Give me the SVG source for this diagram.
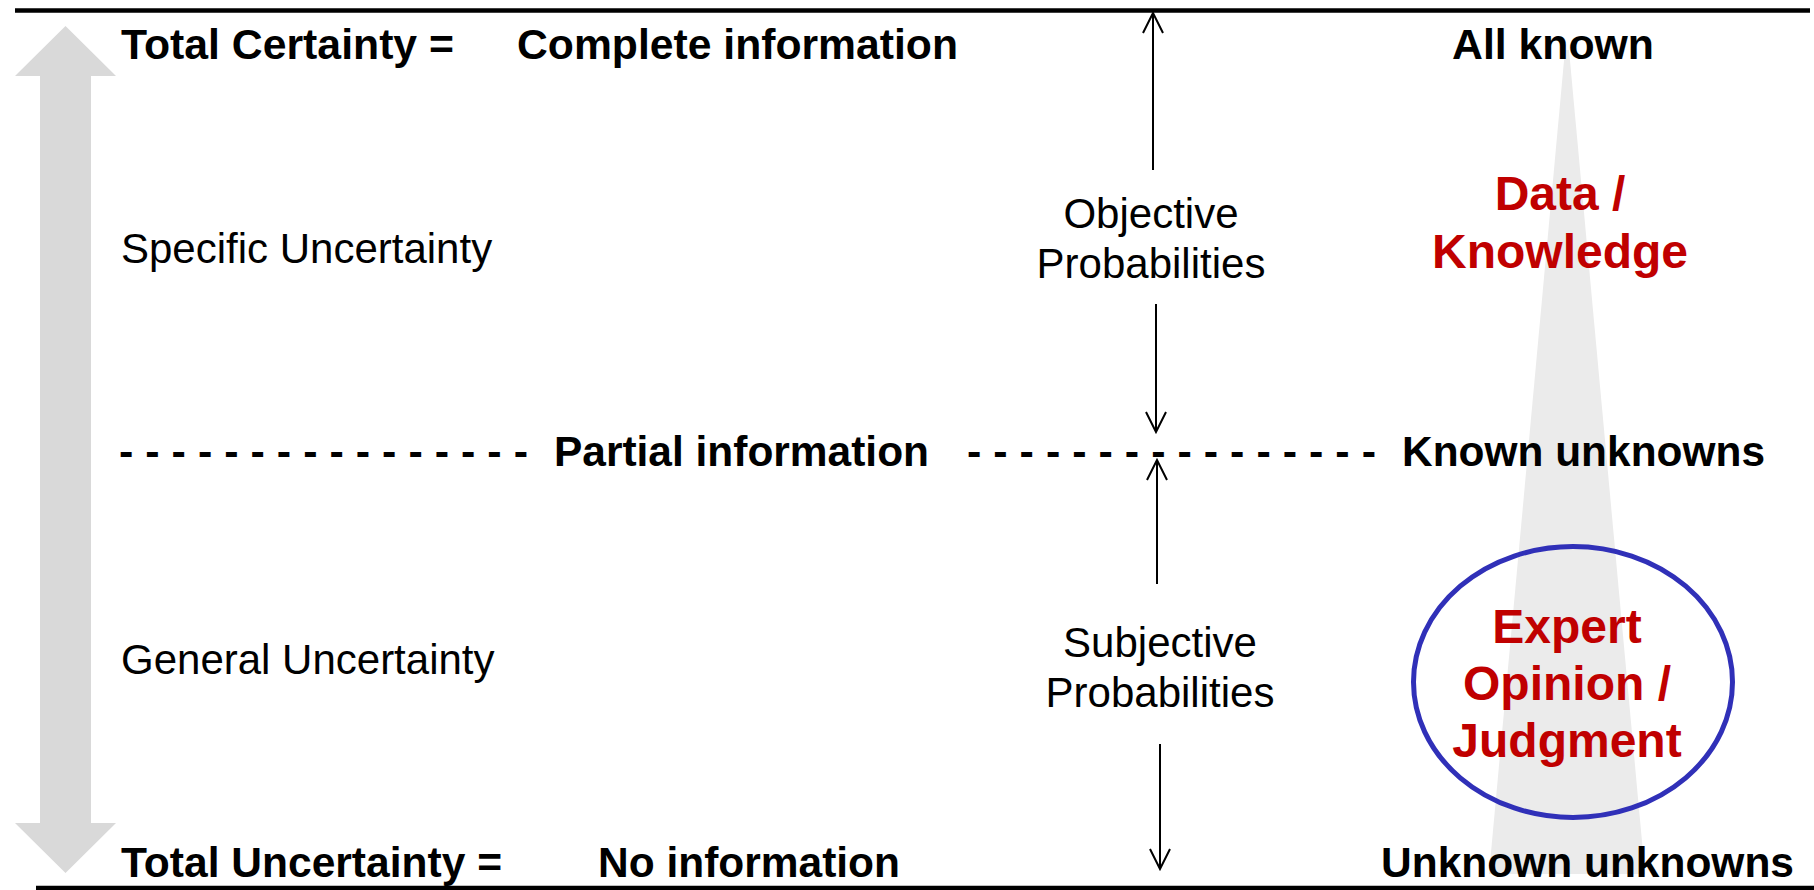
<svg xmlns="http://www.w3.org/2000/svg" width="1814" height="890" viewBox="0 0 1814 890">
  <defs>
    <style>
      .bold { font-family: "Liberation Sans", Arial, sans-serif; font-weight: bold; font-size: 43px; fill: #000; }
      .reg { font-family: "Liberation Sans", Arial, sans-serif; font-size: 42px; fill: #000; }
      .red { font-family: "Liberation Sans", Arial, sans-serif; font-weight: bold; font-size: 48px; fill: #c00000; text-anchor: middle; }
      .mid { text-anchor: middle; }
      .rule { stroke: #000; stroke-width: 4.5; }
      .conn { stroke: #000; stroke-width: 2; fill: none; marker-end: url(#open); }
    </style>
    <!-- open V arrowhead, tip at the line end -->
    <marker id="open" viewBox="-22 -12 24 24" refX="0" refY="0" markerWidth="24" markerHeight="24" markerUnits="userSpaceOnUse" orient="auto">
      <path d="M-20,-10 L0,0 L-20,10" fill="none" stroke="#000" stroke-width="2"/>
    </marker>
  </defs>

  <rect width="1814" height="890" fill="#fff"/>

  <!-- light wedge behind the right-hand column -->
  <polygon id="wedge" points="1565,50 1569,50 1645,874 1489,874" fill="#ebebeb"/>

  <!-- certainty scale: grey double arrow -->
  <polygon id="scale-arrow" points="65.5,26 116,76 91,76 91,823 116,823 65.5,873 15,823 40,823 40,76 15,76" fill="#d9d9d9"/>

  <!-- top and bottom rules -->
  <line class="rule" x1="15" y1="10.5" x2="1810" y2="10.5"/>
  <line class="rule" x1="36" y1="888" x2="1814" y2="888"/>

  <!-- top row -->
  <g id="total-certainty">
    <text class="bold" x="121" y="59" textLength="333" lengthAdjust="spacingAndGlyphs">Total Certainty =</text>
    <text class="bold" x="517" y="59" textLength="441" lengthAdjust="spacingAndGlyphs">Complete information</text>
    <text class="bold" x="1452" y="59" textLength="202" lengthAdjust="spacingAndGlyphs">All known</text>
  </g>

  <!-- middle row -->
  <g id="partial-information">
    <text class="bold" x="119" y="466" textLength="409" lengthAdjust="spacing">- - - - - - - - - - - - - - - -</text>
    <text class="bold" x="554" y="466" textLength="375" lengthAdjust="spacingAndGlyphs">Partial information</text>
    <text class="bold" x="967" y="466" textLength="409" lengthAdjust="spacing">- - - - - - - - - - - - - - - -</text>
    <text class="bold" x="1402" y="466" textLength="363" lengthAdjust="spacingAndGlyphs">Known unknowns</text>
  </g>

  <!-- bottom row -->
  <g id="total-uncertainty">
    <text class="bold" x="121" y="877" textLength="381" lengthAdjust="spacingAndGlyphs">Total Uncertainty =</text>
    <text class="bold" x="598" y="877" textLength="302" lengthAdjust="spacingAndGlyphs">No information</text>
    <text class="bold" x="1381" y="877" textLength="413" lengthAdjust="spacingAndGlyphs">Unknown unknowns</text>
  </g>

  <g id="specific-uncertainty">
    <text class="reg" x="121" y="263">Specific Uncertainty</text>
  </g>
  <g id="general-uncertainty">
    <text class="reg" x="121" y="674">General Uncertainty</text>
  </g>

  <g id="objective-probabilities">
    <text class="reg mid" x="1151" y="228">Objective</text>
    <text class="reg mid" x="1151" y="278">Probabilities</text>
  </g>
  <g id="subjective-probabilities">
    <text class="reg mid" x="1160" y="657">Subjective</text>
    <text class="reg mid" x="1160" y="707">Probabilities</text>
  </g>

  <g id="data-knowledge">
    <text class="red" x="1560" y="210">Data /</text>
    <text class="red" x="1560" y="268">Knowledge</text>
  </g>

  <g id="expert-opinion">
    <ellipse cx="1573" cy="682" rx="159.5" ry="135.5" fill="none" stroke="#3030b8" stroke-width="5"/>
    <text class="red" x="1567" y="643">Expert</text>
    <text class="red" x="1567" y="700">Opinion /</text>
    <text class="red" x="1567" y="757">Judgment</text>
  </g>

  <!-- probability arrows -->
  <g id="connectors">
    <line class="conn" x1="1153" y1="170" x2="1153" y2="13"/>
    <line class="conn" x1="1156" y1="304" x2="1156" y2="432"/>
    <line class="conn" x1="1157" y1="584" x2="1157" y2="460"/>
    <line class="conn" x1="1160" y1="744" x2="1160" y2="869"/>
  </g>
</svg>
